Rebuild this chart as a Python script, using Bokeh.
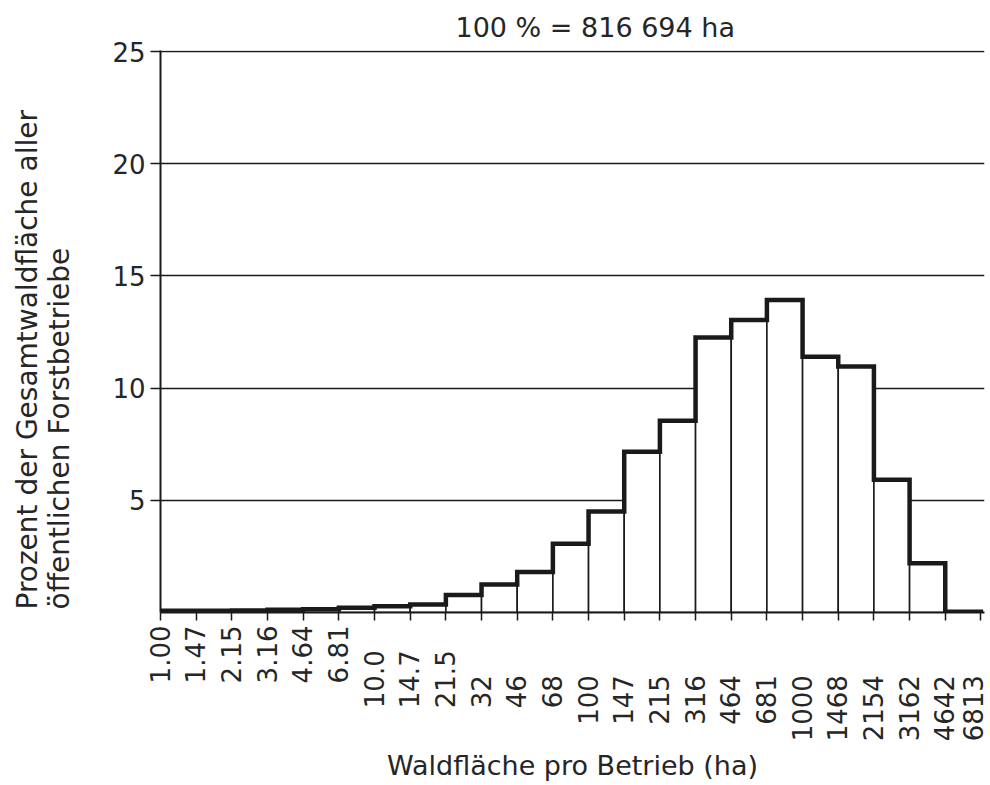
import math
from bokeh.plotting import figure
from bokeh.models import Range1d, FixedTicker, Title
from bokeh.embed import file_html
from bokeh.resources import INLINE

# Class boundaries (ha) – tick labels of the x axis
bounds = ["1.00", "1.47", "2.15", "3.16", "4.64", "6.81", "10.0", "14.7", "21.5",
          "32", "46", "68", "100", "147", "215", "316", "464", "681", "1000",
          "1468", "2154", "3162", "4642", "6813"]
# Percentage of total forest area per size class (bin between consecutive bounds)
shares = [0.08, 0.08, 0.09, 0.12, 0.15, 0.21, 0.28, 0.36, 0.78, 1.25, 1.8, 3.06,
          4.5, 7.17, 8.55, 12.26, 13.04, 13.93, 11.4, 10.96, 5.92, 2.2, 0.03]
y_ticks = [5, 10, 15, 20, 25]
title_text = "100 % = 816 694 ha"
x_label = "Waldfläche pro Betrieb (ha)"
y_label_1 = "Prozent der Gesamtwaldfläche aller"
y_label_2 = "öffentlichen Forstbetriebe"

FONT = "DejaVu Sans"
INK = "#1a1a1a"
TXT = "#262626"

p = figure(width=988, height=784, output_backend="svg", toolbar_location=None,
           x_range=Range1d(0, len(shares) + 0.1), y_range=Range1d(0, 25.05),
           min_border_left=160, min_border_right=4, min_border_top=50, min_border_bottom=172)
p.outline_line_color = None
p.background_fill_color = "white"
p.border_fill_color = "white"

# bins
left = list(range(len(shares)))
right = [i + 1 for i in left]
p.quad(left=left, right=right, bottom=0, top=shares, fill_color="white",
       line_color=INK, line_width=1.6)

# thick stepped outline derived from the data
xs, ys = [0], [0]
for i, v in enumerate(shares):
    xs += [i, i + 1]
    ys += [v, v]
xs.append(len(shares))
ys.append(0)
p.line(xs, ys, line_color=INK, line_width=4.5, line_join="miter")

# grid
p.xgrid.visible = False
p.ygrid.ticker = FixedTicker(ticks=y_ticks)
p.ygrid.grid_line_color = INK
p.ygrid.grid_line_width = 1.5

# x axis (labels aligned on the decimal point)
def padded(s):
    nd = len(s.split(".")[1]) if "." in s else 0
    return s + "\u2007\u2008" * (2 - nd)

xa = p.xaxis[0]
xa.ticker = FixedTicker(ticks=list(range(len(bounds))))
xa.major_label_overrides = {i: padded(s) for i, s in enumerate(bounds)}
xa.major_label_orientation = math.pi / 2
xa.major_label_text_font = FONT
xa.major_label_text_font_size = "26px"
xa.major_label_text_color = TXT
xa.major_label_standoff = 5
xa.major_tick_out = 8
xa.major_tick_in = 0
xa.major_tick_line_width = 1.5
xa.major_tick_line_color = INK
xa.minor_tick_line_color = None
xa.axis_line_width = 2
xa.axis_line_color = INK
xa.axis_label = x_label
xa.axis_label_text_font = FONT
xa.axis_label_text_font_size = "27px"
xa.axis_label_text_font_style = "normal"
xa.axis_label_text_color = TXT
xa.axis_label_standoff = 6

# y axis
ya = p.yaxis[0]
ya.ticker = FixedTicker(ticks=y_ticks)
ya.major_label_text_font = FONT
ya.major_label_text_font_size = "26px"
ya.major_label_text_color = TXT
ya.major_label_standoff = 5
ya.major_tick_out = 10
ya.major_tick_in = 0
ya.major_tick_line_width = 1.5
ya.major_tick_line_color = INK
ya.minor_tick_line_color = None
ya.axis_line_width = 2
ya.axis_line_color = INK

# y axis label as two left-aligned lines
t2 = Title(text=y_label_2, align="left", offset=3, standoff=67,
           text_font=FONT, text_font_size="28px", text_font_style="normal", text_color=TXT)
t1 = Title(text=y_label_1, align="left", offset=3, standoff=-72,
           text_font=FONT, text_font_size="28px", text_font_style="normal", text_color=TXT)
p.add_layout(t2, "left")
p.add_layout(t1, "left")

# top title
p.title.text = title_text
p.title.align = "left"
p.title.offset = 295
p.title.text_font = FONT
p.title.text_font_size = "27px"
p.title.text_font_style = "normal"
p.title.text_color = TXT
p.title.standoff = 15

open("out.html", "w").write(file_html(p, INLINE))
